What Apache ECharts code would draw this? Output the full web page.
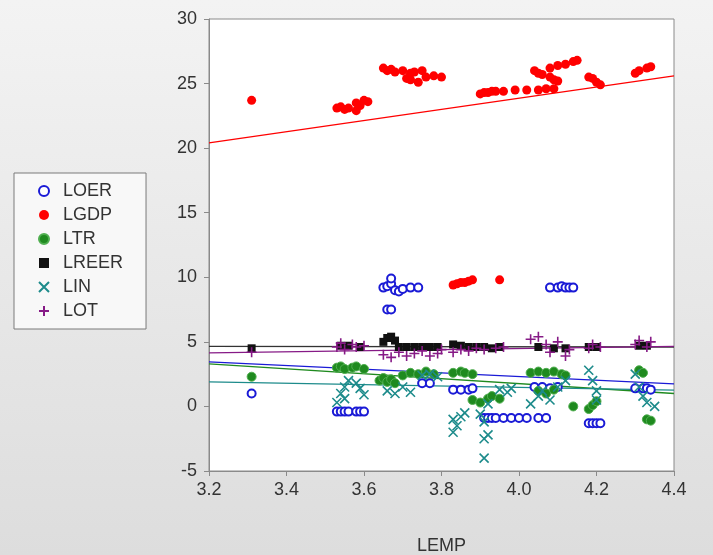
<!DOCTYPE html>
<html>
<head>
<meta charset="utf-8">
<script src="https://cdn.jsdelivr.net/npm/echarts@6/dist/echarts.min.js"></script>
<style>
    html, body {margin: 0; padding: 0;}
    #chart {width: 713px; height: 555px;}
</style>
</head>
<body>
<div id="chart"></div>
<script>
// scatter values: [LEMP, value]
const loer = [
    [3.31, 1.0],
    [3.53, -0.4], [3.54, -0.4], [3.55, -0.4], [3.56, -0.4], [3.58, -0.4], [3.59, -0.4], [3.60, -0.4],
    [3.65, 9.2], [3.66, 9.3], [3.67, 9.5], [3.67, 9.9], [3.68, 9.0], [3.69, 8.9], [3.70, 9.1], [3.72, 9.2], [3.74, 9.2],
    [3.66, 7.5], [3.67, 7.5],
    [3.75, 1.8], [3.77, 1.8],
    [3.83, 1.3], [3.85, 1.3], [3.87, 1.3], [3.88, 1.4],
    [3.91, -0.9], [3.92, -0.9], [3.93, -0.9], [3.94, -0.9], [3.96, -0.9], [3.98, -0.9], [4.00, -0.9], [4.02, -0.9], [4.05, -0.9], [4.07, -0.9],
    [4.08, 9.2], [4.10, 9.2], [4.11, 9.3], [4.12, 9.2], [4.13, 9.2], [4.14, 9.2],
    [4.04, 1.5], [4.06, 1.5], [4.08, 1.4], [4.10, 1.5],
    [4.18, -1.3], [4.19, -1.3], [4.20, -1.3], [4.21, -1.3],
    [4.30, 1.4], [4.32, 1.4], [4.33, 1.4], [4.34, 1.3]
]
const lgdp = [
    [3.31, 23.7],
    [3.53, 23.1], [3.54, 23.2], [3.55, 23.0], [3.56, 23.1], [3.58, 23.5], [3.59, 23.3], [3.60, 23.7], [3.61, 23.6], [3.58, 22.9],
    [3.65, 26.2], [3.66, 26.0], [3.67, 26.1], [3.68, 25.9], [3.70, 26.0], [3.72, 25.8], [3.72, 25.3], [3.74, 25.1],
    [3.75, 26.0], [3.76, 25.5], [3.78, 25.6], [3.80, 25.5], [3.71, 25.4], [3.73, 25.9],
    [3.90, 24.2], [3.91, 24.3], [3.92, 24.3], [3.93, 24.4], [3.94, 24.4], [3.96, 24.4], [3.99, 24.5], [4.02, 24.5], [4.05, 24.5], [4.07, 24.6], [4.09, 24.6],
    [4.04, 26.0], [4.05, 25.8], [4.06, 25.7], [4.08, 25.5], [4.09, 25.3], [4.10, 25.2],
    [4.08, 26.2], [4.10, 26.4], [4.12, 26.5], [4.14, 26.7], [4.15, 26.8],
    [4.18, 25.5], [4.19, 25.4], [4.20, 25.1], [4.21, 24.9],
    [4.30, 25.8], [4.31, 26.0], [4.33, 26.2], [4.34, 26.3],
    [3.83, 9.4], [3.84, 9.5], [3.85, 9.6], [3.86, 9.6], [3.87, 9.7], [3.88, 9.8], [3.95, 9.8]
]
const ltr = [
    [3.31, 2.3],
    [3.53, 3.0], [3.54, 3.1], [3.55, 2.9], [3.57, 3.0], [3.58, 3.1], [3.60, 2.9],
    [3.64, 2.0], [3.65, 2.2], [3.66, 1.9], [3.67, 2.1], [3.68, 1.8], [3.70, 2.4], [3.72, 2.6], [3.74, 2.5], [3.76, 2.7], [3.78, 2.5],
    [3.83, 2.6], [3.85, 2.7], [3.86, 2.6], [3.88, 2.5],
    [3.88, 0.5], [3.90, 0.3], [3.92, 0.6], [3.93, 0.8], [3.95, 0.6],
    [4.03, 2.6], [4.05, 2.7], [4.07, 2.6], [4.09, 2.7], [4.11, 2.5], [4.12, 2.4],
    [4.05, 1.2], [4.07, 1.0], [4.09, 1.3],
    [4.14, 0.0], [4.18, -0.2], [4.19, 0.1], [4.20, 0.4],
    [4.31, 2.8], [4.32, 2.6], [4.33, -1.0], [4.34, -1.1]
]
const lreer = [
    [3.31, 4.5],
    [3.54, 4.7], [3.56, 4.7], [3.59, 4.6],
    [3.65, 5.0], [3.66, 5.3], [3.67, 5.4], [3.68, 5.1],
    [3.69, 4.6], [3.71, 4.6], [3.73, 4.6], [3.75, 4.6], [3.77, 4.6], [3.79, 4.6],
    [3.83, 4.8], [3.85, 4.7], [3.87, 4.6], [3.89, 4.6], [3.91, 4.6], [3.93, 4.5], [3.95, 4.6],
    [4.05, 4.6], [4.09, 4.5], [4.12, 4.5],
    [4.18, 4.6], [4.20, 4.6], [4.31, 4.7], [4.33, 4.7]
]
const lin = [
    [3.53, 0.3], [3.54, 1.0], [3.55, 1.5], [3.55, 0.6], [3.56, 2.0], [3.58, 1.8], [3.59, 1.4], [3.60, 0.9],
    [3.66, 1.2], [3.68, 1.0], [3.70, 1.5], [3.72, 1.1],
    [3.75, 2.4], [3.77, 2.5], [3.79, 2.3],
    [3.83, -2.0], [3.84, -1.5], [3.85, -0.8], [3.86, -0.5], [3.83, -1.0],
    [3.91, -4.0], [3.91, -2.5], [3.92, -2.2], [3.91, -1.2], [3.90, -0.6], [3.92, 0.2],
    [3.95, 1.3], [3.97, 1.1], [3.98, 1.4],
    [4.03, 0.2], [4.05, 0.8], [4.06, 1.2], [4.08, 0.5], [4.10, 1.5], [4.12, 2.0],
    [4.18, 2.8], [4.19, 2.0], [4.20, 1.2], [4.20, 0.5],
    [4.30, 2.5], [4.31, 1.5], [4.32, 0.8], [4.33, 0.3], [4.35, 0.0]
]
const lot = [
    [3.31, 4.2],
    [3.53, 4.6], [3.54, 4.9], [3.55, 4.4], [3.57, 4.8], [3.58, 4.6], [3.60, 4.7],
    [3.65, 4.0], [3.67, 3.8], [3.69, 4.2], [3.71, 3.9], [3.73, 4.1], [3.75, 4.3], [3.77, 3.9], [3.79, 4.1], [3.80, 4.4],
    [3.83, 4.2], [3.85, 4.4], [3.87, 4.3], [3.89, 4.5], [3.91, 4.4], [3.94, 4.5], [3.96, 4.6],
    [4.03, 5.2], [4.05, 5.4], [4.07, 4.8], [4.08, 4.2], [4.10, 5.0], [4.12, 3.9], [4.13, 4.4],
    [4.18, 4.5], [4.19, 4.8], [4.21, 4.6],
    [4.30, 4.8], [4.31, 5.1], [4.33, 4.6], [4.34, 5.0]
]

// fitted lines, value at each end of the x range
const fitX = [3.2, 4.4]
const loerFit = [3.45, 1.75]
const lgdpFit = [20.4, 25.6]
const ltrFit = [3.3, 1.0]
const lreerFit = [4.65, 4.6]
const linFit = [1.9, 1.27]
const lotFit = [4.15, 4.65]

const names = ['LOER', 'LGDP', 'LTR', 'LREER', 'LIN', 'LOT']
const colors = ['#1a1ad6', '#ff0000', '#1f8a1f', '#111111', '#1d8b8b', '#861a86']

const crossPath = 'path://M0,0L10,10M10,0L0,10'
const plusPath = 'path://M5,0L5,10M0,5L10,5'

let fitLine = function (vals, color) {
    return {
        type: 'line',
        data: fitX.map((x, i) => [x, vals[i]]),
        symbol: 'none',
        silent: true,
        lineStyle: {color: color, width: 1.3},
        z: 1
    }
}

let chart = echarts.init(document.getElementById('chart'))
let option = {
    backgroundColor: {
        type: 'linear', x: 0, y: 0, x2: 0, y2: 1,
        colorStops: [{offset: 0, color: '#f3f3f3'}, {offset: 1, color: '#dddddd'}]
    },
    animation: false,
    textStyle: {fontFamily: 'Liberation Sans, Arial, sans-serif'},
    grid: {
        left: 209, top: 19, right: 39, bottom: 84,
        outerBoundsMode: 'none',
        show: true, backgroundColor: '#ffffff', borderColor: '#8a8a8a', borderWidth: 1
    },
    legend: {
        orient: 'vertical',
        left: 14,
        top: 173,
        padding: [9, 23, 9, 24],
        itemGap: 6,
        itemWidth: 10,
        itemHeight: 10,
        backgroundColor: '#f8f8f8',
        borderColor: '#7a7a7a',
        borderWidth: 1,
        textStyle: {fontSize: 18, color: '#333333', padding: [0, 0, 0, 9]},
        data: names
    },
    xAxis: {
        type: 'value',
        min: 3.2,
        max: 4.4,
        interval: 0.2,
        name: 'LEMP',
        nameLocation: 'middle',
        nameGap: 66,
        nameTextStyle: {fontSize: 18, color: '#333333'},
        axisLine: {onZero: false, lineStyle: {color: '#8a8a8a'}},
        axisTick: {length: 5, lineStyle: {color: '#8a8a8a'}},
        axisLabel: {fontSize: 18, color: '#333333', margin: 10, formatter: (v) => v.toFixed(1)},
        splitLine: {show: false}
    },
    yAxis: {
        type: 'value',
        min: -5,
        max: 30,
        interval: 5,
        axisLine: {show: true, onZero: false, lineStyle: {color: '#8a8a8a'}},
        axisTick: {show: true, length: 5, lineStyle: {color: '#8a8a8a'}},
        axisLabel: {fontSize: 18, color: '#333333', margin: 12},
        splitLine: {show: false}
    },
    series: [
        {name: 'LOER', type: 'scatter', data: loer, symbol: 'emptyCircle', symbolSize: 8,
            itemStyle: {opacity: 1, color: colors[0], borderColor: colors[0], borderWidth: 1.6}, z: 3},
        {name: 'LGDP', type: 'scatter', data: lgdp, symbol: 'circle', symbolSize: 9,
            itemStyle: {opacity: 1, color: colors[1]}, z: 3},
        {name: 'LTR', type: 'scatter', data: ltr, symbol: 'circle', symbolSize: 9,
            itemStyle: {opacity: 1, color: colors[2], borderColor: '#4fae4f', borderWidth: 1}, z: 3},
        {name: 'LREER', type: 'scatter', data: lreer, symbol: 'rect', symbolSize: 8,
            itemStyle: {opacity: 1, color: colors[3]}, z: 3},
        {name: 'LIN', type: 'scatter', data: lin, symbol: crossPath, symbolSize: 9,
            itemStyle: {opacity: 1, color: 'rgba(0,0,0,0)', borderColor: colors[4], borderWidth: 1.6}, z: 3},
        {name: 'LOT', type: 'scatter', data: lot, symbol: plusPath, symbolSize: 10,
            itemStyle: {opacity: 1, color: 'rgba(0,0,0,0)', borderColor: colors[5], borderWidth: 1.6}, z: 4},
        fitLine(loerFit, colors[0]),
        fitLine(lgdpFit, colors[1]),
        fitLine(ltrFit, colors[2]),
        fitLine(lreerFit, '#333333'),
        fitLine(linFit, colors[4]),
        fitLine(lotFit, colors[5])
    ]
}
chart.setOption(option)
</script>
</body>
</html>
